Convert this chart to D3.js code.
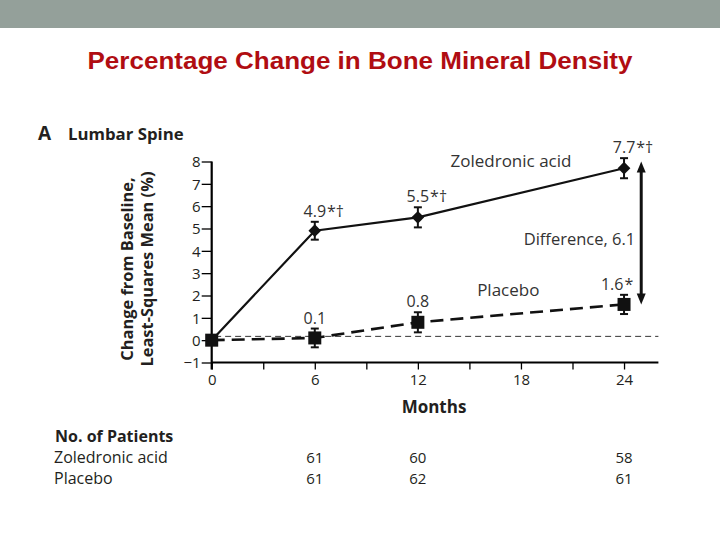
<!DOCTYPE html>
<html>
<head>
<meta charset="utf-8">
<script src="https://cdn.jsdelivr.net/npm/d3@7"></script>
<style>
  body { margin: 0; background: #fff; }
  svg { display: block; }
  text { font-family: "Open Sans", sans-serif; fill: #231f20; }
</style>
</head>
<body>
<script>
// chart values
const months = [0, 6, 12, 24];
const zoledronic = [0, 4.9, 5.5, 7.7];
const zolErr = [0, 0.4, 0.45, 0.45];
const zolNum = ["", "4.9", "5.5", "7.7"];
const zolMark = ["", "*†", "*†", "*†"];
const placebo = [0, 0.1, 0.8, 1.6];
const plaErr = [0, 0.42, 0.45, 0.43];
const plaNum = ["", "0.1", "0.8", "1.6"];
const plaMark = ["", "", "", "*"];
const yTicks = [-1, 0, 1, 2, 3, 4, 5, 6, 7, 8];
const xTicks = [0, 3, 6, 9, 12, 15, 18, 21, 24];
const xLabels = [0, 6, 12, 18, 24];
const patientMonths = [6, 12, 24];
const zolPatients = [61, 60, 58];
const plaPatients = [61, 62, 61];
const difference = 6.1;

const width = 720, height = 540;

const svg = d3.select("body").append("svg")
  .attr("width", width)
  .attr("height", height);

// header band + title
svg.append("rect")
  .attr("x", 0).attr("y", 0)
  .attr("width", width).attr("height", 28)
  .attr("fill", "#94a09a");

svg.append("text")
  .attr("x", 360).attr("y", 69)
  .attr("text-anchor", "middle")
  .style("font-family", "'Liberation Sans', Arial, sans-serif")
  .style("font-size", "24px")
  .style("font-weight", "bold")
  .style("fill", "#b00d12")
  .attr("textLength", 545)
  .attr("lengthAdjust", "spacingAndGlyphs")
  .text("Percentage Change in Bone Mineral Density");

// panel label
svg.append("text")
  .attr("x", 38).attr("y", 140)
  .style("font-size", "19px").style("font-weight", "bold")
  .text("A");
svg.append("text")
  .attr("x", 68).attr("y", 140)
  .style("font-size", "16.8px").style("font-weight", "bold")
  .text("Lumbar Spine");

const x = d3.scaleLinear().domain([0, 26]).range([211.7, 658.4]);
const y = d3.scaleLinear().domain([-1, 8]).range([362.5, 161.5]);

// y axis
const yAxis = svg.append("g")
  .attr("transform", `translate(${x(0)},0)`)
  .call(d3.axisLeft(y).tickValues(yTicks).tickSize(10).tickPadding(1)
    .tickFormat(d => d < 0 ? "\u2212" + Math.abs(d) : d));
yAxis.select(".domain").attr("stroke-width", 2.2).attr("d", `M0,${y(8)}V${y(-1) + 7}`);
yAxis.selectAll(".tick line").attr("stroke-width", 1.3);
yAxis.selectAll(".tick text")
  .style("font-size", "15px").style("font-family", "'Open Sans', sans-serif")
  .attr("dy", "0.36em");

// x axis
const xAxis = svg.append("g")
  .attr("transform", `translate(0,${y(-1)})`)
  .call(d3.axisBottom(x).tickValues(xTicks).tickSize(7).tickPadding(5)
    .tickFormat(d => xLabels.includes(d) ? d : ""));
xAxis.select(".domain").attr("stroke-width", 2).attr("d", `M${x(0)},0H${x(26)}`);
xAxis.selectAll(".tick line").attr("stroke-width", 1.3);
xAxis.selectAll(".tick text")
  .style("font-size", "15px").style("font-family", "'Open Sans', sans-serif");

// axis titles
const yTitle = svg.append("text")
  .attr("transform", `translate(133,269) rotate(-90)`)
  .attr("text-anchor", "middle")
  .style("font-size", "16.4px").style("font-weight", "bold");
yTitle.append("tspan").attr("x", 0).attr("y", 0).text("Change from Baseline,");
yTitle.append("tspan").attr("x", 0).attr("y", 20).text("Least-Squares Mean (%)");

svg.append("text")
  .attr("x", 434).attr("y", 413)
  .attr("text-anchor", "middle")
  .style("font-size", "17px").style("font-weight", "bold")
  .text("Months");

// baseline reference (thin dashed)
svg.append("line")
  .attr("x1", x(0.2)).attr("x2", x(26))
  .attr("y1", y(0.17)).attr("y2", y(0.17))
  .attr("stroke", "#333").attr("stroke-width", 1)
  .attr("stroke-dasharray", "6,4");

const zolPts = months.map((m, i) => ({ m, v: zoledronic[i], e: zolErr[i], num: zolNum[i], mark: zolMark[i] }));
const plaPts = months.map((m, i) => ({ m, v: placebo[i], e: plaErr[i], num: plaNum[i], mark: plaMark[i] }));

const line = d3.line().x(d => x(d.m)).y(d => y(d.v));

svg.append("path").datum(zolPts)
  .attr("d", line).attr("fill", "none")
  .attr("stroke", "#111").attr("stroke-width", 2.2);

svg.append("path").datum(plaPts)
  .attr("d", line).attr("fill", "none")
  .attr("stroke", "#111").attr("stroke-width", 2.6)
  .attr("stroke-dasharray", "13,7");

// error bars
function errorBars(pts) {
  const g = svg.append("g").attr("stroke", "#111").attr("stroke-width", 2);
  const p = pts.filter(d => d.e > 0);
  g.selectAll(".v").data(p).enter().append("line")
    .attr("x1", d => x(d.m)).attr("x2", d => x(d.m))
    .attr("y1", d => y(d.v + d.e)).attr("y2", d => y(d.v - d.e));
  g.selectAll(".t").data(p).enter().append("line")
    .attr("x1", d => x(d.m) - 4).attr("x2", d => x(d.m) + 4)
    .attr("y1", d => y(d.v + d.e)).attr("y2", d => y(d.v + d.e));
  g.selectAll(".b").data(p).enter().append("line")
    .attr("x1", d => x(d.m) - 4).attr("x2", d => x(d.m) + 4)
    .attr("y1", d => y(d.v - d.e)).attr("y2", d => y(d.v - d.e));
}
errorBars(zolPts);
errorBars(plaPts);

// markers
svg.selectAll(".diamond").data(zolPts.slice(1)).enter().append("path")
  .attr("transform", d => `translate(${x(d.m)},${y(d.v)}) rotate(45)`)
  .attr("d", "M-4.5,-4.5H4.5V4.5H-4.5Z")
  .attr("fill", "#111");

svg.selectAll(".square").data(plaPts).enter().append("rect")
  .attr("x", d => x(d.m) - 6.5).attr("y", d => y(d.v) - 6.5)
  .attr("width", 13).attr("height", 13)
  .attr("fill", "#111");

const ax = x(25);

// value labels: number centred on the point, marks trailing,
// pushed left if they would run into the difference arrow
function valueLabels(pts, gap) {
  pts.filter(d => d.num).forEach(d => {
    const ty = y(d.v + d.e) - gap;
    const g = svg.append("g");
    const t = g.append("text")
      .attr("x", x(d.m)).attr("y", ty)
      .attr("text-anchor", "middle")
      .style("font-size", "16px").style("fill", "#333")
      .text(d.num);
    const w = t.node().getComputedTextLength();
    let right = x(d.m) + w / 2;
    if (d.mark) {
      const s = g.append("text")
        .attr("x", right + 1).attr("y", ty)
        .style("font-size", "16px").style("fill", "#333")
        .text(d.mark);
      right += 1 + s.node().getComputedTextLength();
    }
    const over = right - (ax - 8);
    if (over > 0 && ty > y(4)) g.attr("transform", `translate(${-over},0)`);
  });
}
valueLabels(zolPts, 5);
valueLabels(plaPts, 5);

// series labels
svg.append("text")
  .attr("x", x(13.9)).attr("y", y(7.75))
  .style("font-size", "17px").style("fill", "#333")
  .text("Zoledronic acid");
svg.append("text")
  .attr("x", x(15.45)).attr("y", y(2.0))
  .style("font-size", "17px").style("fill", "#333")
  .text("Placebo");

// difference arrow
const yTop = y(8.0), yBot = y(placebo[3]);
svg.append("line")
  .attr("x1", ax).attr("x2", ax)
  .attr("y1", yTop + 8).attr("y2", yBot - 8)
  .attr("stroke", "#111").attr("stroke-width", 3);
svg.append("path")
  .attr("d", `M${ax},${yTop}L${ax - 4.5},${yTop + 11}L${ax + 4.5},${yTop + 11}Z`)
  .attr("fill", "#111");
svg.append("path")
  .attr("d", `M${ax},${yBot}L${ax - 4.5},${yBot - 11}L${ax + 4.5},${yBot - 11}Z`)
  .attr("fill", "#111");
svg.append("text")
  .attr("x", ax - 6).attr("y", y(4.25))
  .attr("text-anchor", "end")
  .style("font-size", "16.5px").style("fill", "#333")
  .text("Difference, " + difference);

// number of patients table
const rowY = [442, 463, 484];
svg.append("text")
  .attr("x", 55).attr("y", rowY[0])
  .style("font-size", "16px").style("font-weight", "bold")
  .text("No. of Patients");
svg.append("text")
  .attr("x", 54).attr("y", rowY[1])
  .style("font-size", "16px")
  .text("Zoledronic acid");
svg.append("text")
  .attr("x", 54).attr("y", rowY[2])
  .style("font-size", "16px")
  .text("Placebo");

svg.selectAll(".zn").data(zolPatients).enter().append("text")
  .attr("x", (d, i) => x(patientMonths[i])).attr("y", rowY[1])
  .attr("text-anchor", "middle")
  .style("font-size", "15px")
  .text(d => d);
svg.selectAll(".pn").data(plaPatients).enter().append("text")
  .attr("x", (d, i) => x(patientMonths[i])).attr("y", rowY[2])
  .attr("text-anchor", "middle")
  .style("font-size", "15px")
  .text(d => d);
</script>
</body>
</html>
